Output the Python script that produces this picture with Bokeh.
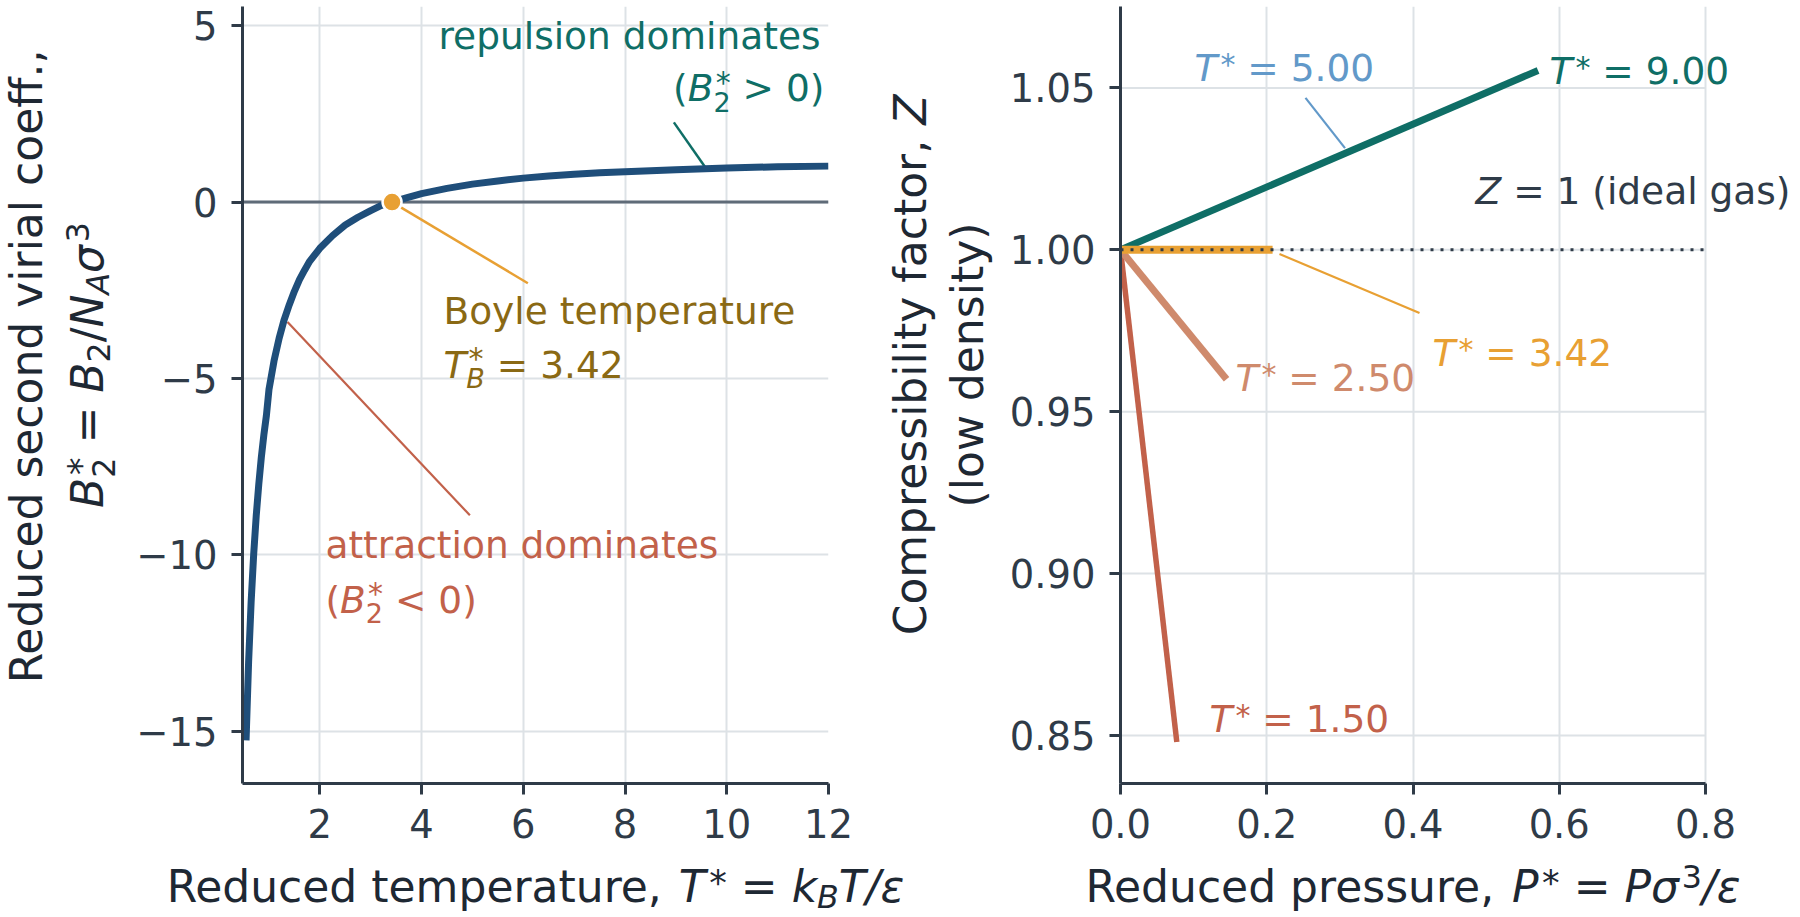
import math
from bokeh.plotting import figure
from bokeh.layouts import row, column
from bokeh.models import Label, Span, FixedTicker, CustomJSTickFormatter, PrintfTickFormatter
from bokeh.embed import file_html
from bokeh.resources import INLINE

# ---------------- data ----------------
t_star = [0.55, 0.6, 0.65, 0.7, 0.75, 0.8, 0.85, 0.9, 0.95, 1.0, 1.1, 1.2, 1.3, 1.4, 1.5,
          1.6, 1.7, 1.8, 2.0, 2.25, 2.5, 2.75, 3.0, 3.2, 3.42, 3.7, 4.0, 4.5, 5.0, 5.5,
          6.0, 6.5, 7.0, 7.5, 8.0, 9.0, 10.0, 11.0, 12.0]
b2_star = [-15.26, -13.04, -11.33, -9.98, -8.89, -8.00, -7.24, -6.60, -6.05, -5.32, -4.50,
           -3.86, -3.33, -2.91, -2.53, -2.20, -1.93, -1.68, -1.31, -0.95, -0.65, -0.43,
           -0.24, -0.10, 0.0, 0.12, 0.24, 0.39, 0.51, 0.60, 0.68, 0.74, 0.79, 0.83, 0.86,
           0.92, 0.97, 1.00, 1.02]
boyle_T = 3.42

iso_T_labels = ["1.50", "2.50", "3.42", "5.00", "9.00"]
iso_p_end = [0.077, 0.145, 0.208, 0.307, 0.571]
iso_z_end = [0.848, 0.960, 1.000, 1.0298, 1.0554]

left_xticks = [2, 4, 6, 8, 10, 12]
left_yticks = [-15, -10, -5, 0, 5]
right_xticks = [0.0, 0.2, 0.4, 0.6, 0.8]
right_yticks = [0.85, 0.90, 0.95, 1.00, 1.05]

# ---------------- styles ----------------
FONT = "DejaVu Sans"
AX = "#2f3b48"
LABEL_C = "#1e2833"
GRID = "#dde2e6"
BLUE = "#1f4e7a"
TEAL = "#0f6e66"
ORANGE = "#e8a033"
GOLD = "#8a6914"
RED = "#c2614a"
SALMON = "#cf8a6c"
LBLUE = "#6299c9"
COLORS = [RED, SALMON, ORANGE, LBLUE, TEAL]
WIDTHS = [5.5, 7, 8, 5, 7]

# page geometry (page origin = canvas origin)
TOP, BOT = 6, 783            # frame top / bottom of both panels
PH = 855                     # height of the panel row
SH = 60                      # height of the bottom label strip
YLW = 133                    # left label strip width
LW = 725                     # left panel width (frame 242..828)
YMW = 147                    # middle label strip width
RW = 793                     # right panel width (frame 1120..1798)
TOTW = YLW + LW + YMW + RW

LXR, LYR = (0.48, 12.0), (-16.485, 5.546)
R_FRAME_W = RW - 115
RXR, RYR = (0.0, 0.8 * R_FRAME_W / 585.0), (0.83518, 1.07514)


def Rx(px):
    return (px - 1120) * 0.8 / 585.0


EM = {' ': 0.318, ',': 0.318, '.': 0.318, '(': 0.390, ')': 0.390, '/': 0.337, '*': 0.5,
      '=': 0.838, '>': 0.838, '<': 0.838,
      'A': 0.684, 'B': 0.686, 'C': 0.698, 'N': 0.748, 'P': 0.603, 'R': 0.695, 'T': 0.611, 'Z': 0.685,
      'a': 0.613, 'b': 0.635, 'c': 0.550, 'd': 0.635, 'e': 0.615, 'f': 0.352, 'g': 0.635,
      'h': 0.634, 'i': 0.278, 'k': 0.579, 'l': 0.278, 'm': 0.974, 'n': 0.634, 'o': 0.612,
      'p': 0.635, 'r': 0.411, 's': 0.521, 't': 0.392, 'u': 0.634, 'v': 0.592, 'w': 0.818,
      'y': 0.592, 'z': 0.525, 'x': 0.592, '\u03c3': 0.617, '\u03b5': 0.541}
for d in "0123456789":
    EM[d] = 0.636


def tw(s):
    return sum(EM.get(c, 0.6) for c in s)


SC = 0.72
BASE_FIX = 0.27   # compensates where the renderer puts the alphabetic baseline


def rich(p, x, y, runs, size, color, align="left", vertical=False):
    pieces = []
    pos = 0.0
    for run in runs:
        text, kind = run[0], run[1]
        it = len(run) > 2 and run[2]
        if kind == "n":
            pieces.append((text, size, it, pos, 0.0))
            pos += tw(text) * size
        elif kind == "sup":
            s = size * (0.8 if text == "*" else SC)
            r = 0.15 if text == "*" else 0.30
            pieces.append((text, s, it, pos + 0.08 * size, r * size))
            pos += tw(text) * s + 0.08 * size
        elif kind == "sub":
            s = size * SC
            pieces.append((text, s, it, pos, -0.17 * size))
            pos += tw(text) * s
        elif kind == "stack":
            sub, sup = text
            s = size * SC
            pieces.append((sub, s, it, pos, -0.28 * size))
            pieces.append((sup, size * 0.8, False, pos + 0.06 * size, 0.22 * size))
            pos += max(tw(sub) * s, tw(sup) * size * 0.8 + 0.06 * size)
    off = {"left": 0.0, "center": -pos / 2.0, "right": -pos}[align]
    for text, s, it, a, sh in pieces:
        lead = len(text) - len(text.lstrip(" "))
        a += off + lead * EM[" "] * s
        sh += BASE_FIX * s
        text = text.strip(" ")
        xo, yo = (-sh, a) if vertical else (a, sh)
        p.add_layout(Label(x=x, y=y, x_offset=xo, y_offset=yo, text=text,
                           angle=math.pi / 2 if vertical else 0.0,
                           text_font=FONT, text_font_size=f"{s:.1f}px",
                           text_font_style="italic" if it else "normal",
                           text_color=color, text_align="left",
                           text_baseline="alphabetic"))


def style(p, xticks, yticks):
    p.outline_line_color = None
    p.background_fill_color = "white"
    p.border_fill_color = "white"
    for ax in (p.xaxis[0], p.yaxis[0]):
        ax.axis_line_color = AX
        ax.axis_line_width = 3
        ax.major_tick_line_color = AX
        ax.major_tick_line_width = 3
        ax.major_tick_out = 11
        ax.major_tick_in = 0
        ax.minor_tick_out = 0
        ax.minor_tick_in = 0
        ax.major_label_text_font = FONT
        ax.major_label_text_font_size = "38.5px"
        ax.major_label_text_color = AX
        ax.major_label_standoff = 14
    p.xaxis[0].ticker = FixedTicker(ticks=xticks)
    p.yaxis[0].ticker = FixedTicker(ticks=yticks)
    p.xgrid[0].ticker = FixedTicker(ticks=xticks)
    p.ygrid[0].ticker = FixedTicker(ticks=yticks)
    p.grid.grid_line_color = GRID
    p.grid.grid_line_width = 2


def strip(w, h):
    s = figure(width=w, height=h, x_range=(0, w), y_range=(0, h), output_backend="svg",
               toolbar_location=None, x_axis_type=None, y_axis_type=None,
               min_border=0, min_border_left=0, min_border_right=0,
               min_border_top=0, min_border_bottom=0)
    s.outline_line_color = None
    s.grid.visible = False
    s.background_fill_color = "white"
    s.border_fill_color = "white"
    return s


# ---------------- left panel ----------------
pl = figure(width=LW, height=PH, x_range=LXR, y_range=LYR, output_backend="svg",
            toolbar_location=None, min_border_left=242 - YLW,
            min_border_right=LW - (242 - YLW) - 586,
            min_border_top=TOP, min_border_bottom=PH - BOT)
style(pl, left_xticks, left_yticks)
pl.yaxis[0].formatter = CustomJSTickFormatter(
    code="return tick < 0 ? '\u2212' + Math.abs(tick) : String(tick);")

pl.add_layout(Span(location=0, dimension="width", line_color="#5f6b78", line_width=3,
                   level="underlay"))

# leader lines
pl.line([8.96, 9.57], [2.26, 1.0], line_color=TEAL, line_width=2.5)
pl.line([boyle_T, 6.09], [0.0, -2.3], line_color=ORANGE, line_width=2.5)
pl.line([1.365, 4.95], [-3.40, -8.88], line_color=RED, line_width=2.2)

pl.line(t_star, b2_star, line_color=BLUE, line_width=7, line_join="round")
pl.scatter([boyle_T], [0.0], size=19, fill_color=ORANGE, line_color="white", line_width=2.5)

A = 37.5
rich(pl, 11.86, 4.42, [("repulsion dominates", "n")], A, TEAL, align="right")
rich(pl, 11.92, 2.94, [("(", "n"), ("B", "n", True), (("2", "*"), "stack", False), (" > 0)", "n")],
     A, TEAL, align="right")
rich(pl, 4.43, -3.38, [("Boyle temperature", "n")], A, GOLD)
rich(pl, 4.43, -4.91, [("T", "n", True), (("B", "*"), "stack", True), (" = 3.42", "n")],
     A, GOLD)
rich(pl, 2.11, -10.01, [("attraction dominates", "n")], A, RED)
rich(pl, 2.11, -11.57, [("(", "n"), ("B", "n", True), (("2", "*"), "stack", False), (" < 0)", "n")],
     A, RED)

# ---------------- right panel ----------------
pr = figure(width=RW, height=PH, x_range=RXR, y_range=RYR, output_backend="svg",
            toolbar_location=None, min_border_left=115, min_border_right=0,
            min_border_top=TOP, min_border_bottom=PH - BOT)
style(pr, right_xticks, right_yticks)
pr.ygrid.visible = False
pr.xaxis[0].bounds = (right_xticks[0], right_xticks[-1])
pr.xaxis[0].formatter = PrintfTickFormatter(format="%.1f")
pr.yaxis[0].formatter = PrintfTickFormatter(format="%.2f")

# horizontal grid lines limited to the axis extent
pr.segment(x0=[right_xticks[0]] * len(right_yticks), x1=[right_xticks[-1]] * len(right_yticks),
           y0=right_yticks, y1=right_yticks, line_color=GRID, line_width=2, level="underlay")

# leader lines
pr.line([0.253, iso_p_end[3]], [1.0469, 1.0314], line_color=LBLUE, line_width=2.2)
pr.line([0.2174, 0.4089], [0.9987, 0.9805], line_color=ORANGE, line_width=2.2)

order = [3, 4, 0, 1, 2]
for i in order:
    pr.line([0.0, iso_p_end[i]], [1.0, iso_z_end[i]], line_color=COLORS[i],
            line_width=WIDTHS[i])

# ideal gas reference line
pr.line([right_xticks[0], right_xticks[-1]], [1.0, 1.0], line_color=AX, line_width=3,
        line_dash="3 7")

label_pos = [(0.1217, 0.8520), (0.1573, 0.9573), (0.4267, 0.9650), (0.1012, 1.0531),
             (0.5867, 1.0521)]
for i, (lx_, ly_) in enumerate(label_pos):
    rich(pr, lx_, ly_, [("T", "n", True), ("*", "sup"), (" = " + iso_T_labels[i], "n")],
         A, COLORS[i])

rich(pr, Rx(1790), 1.0151, [("Z", "n", True), (" = 1 (ideal gas)", "n")], A, AX,
     align="right")

# ---------------- axis-label strips ----------------
S = 44
yl = strip(YLW, PH)
rich(yl, 38, PH - 394.5, [("Reduced second virial coeff.,", "n")], S, LABEL_C,
     align="center", vertical=True)
rich(yl, 99, PH - 394.5,
     [("B", "n", True), (("2", "*"), "stack", False), (" = ", "n"), ("B", "n", True),
      ("2", "sub"), ("/", "n"), ("N", "n", True), ("A", "sub", True), ("\u03c3", "n", True),
      ("3", "sup")],
     S, LABEL_C, align="center", vertical=True)

ym = strip(YMW, PH)
x0m = YLW + LW
rich(ym, 922 - x0m, PH - 394.5, [("Compressibility factor, ", "n"), ("Z", "n", True)], S,
     LABEL_C, align="center", vertical=True)
rich(ym, 979 - x0m, PH - 394.5, [("(low density)", "n")], S, LABEL_C, align="center",
     vertical=True)

xl = strip(TOTW, SH)
rich(xl, 535, PH + SH - 898,
     [("Reduced temperature, ", "n"), ("T", "n", True), ("*", "sup"), (" = ", "n"),
      ("k", "n", True), ("B", "sub", True), ("T/\u03b5", "n", True)],
     S, LABEL_C, align="center")
rich(xl, 1412.5, PH + SH - 898,
     [("Reduced pressure, ", "n"), ("P", "n", True), ("*", "sup"), (" = ", "n"),
      ("P\u03c3", "n", True), ("3", "sup"), ("/\u03b5", "n", True)],
     S, LABEL_C, align="center")

layout = column(row(yl, pl, ym, pr), xl)
open("out.html", "w").write(file_html(layout, INLINE))
